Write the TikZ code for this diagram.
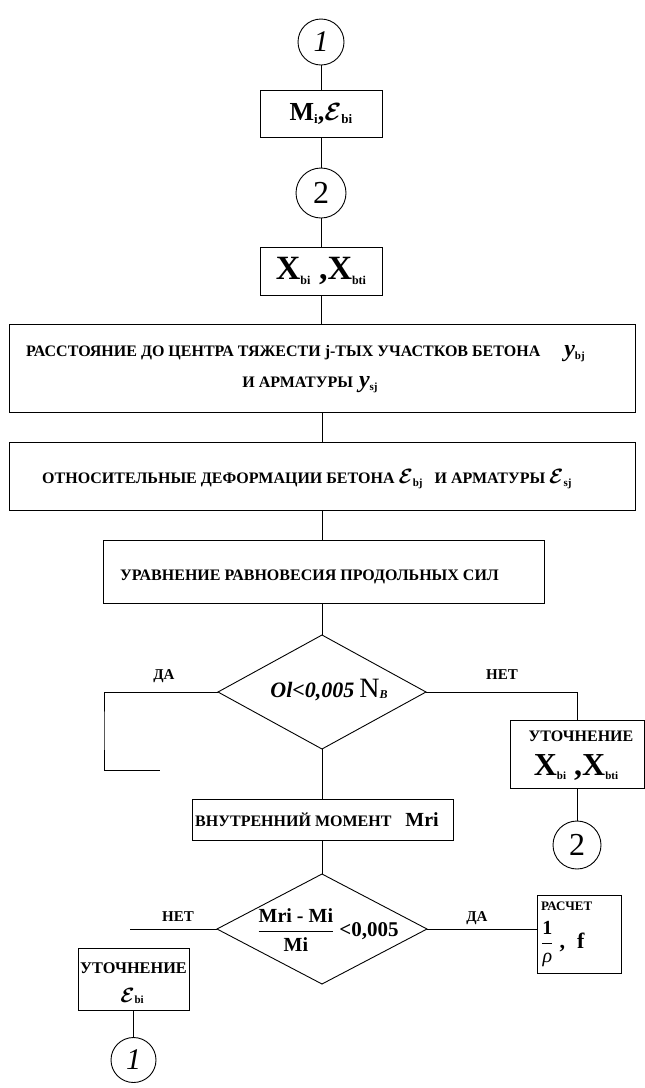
\documentclass[tikz,border=0pt]{standalone}
\usepackage{fontspec}
\setmainfont{Liberation Serif}
\usetikzlibrary{shapes.geometric,calc}
\newcommand{\subt}[2][11]{\raisebox{-0.3ex}{\fontsize{#1}{#1}\selectfont\bfseries #2}}
\newcommand{\calE}[1][22]{{\fontsize{#1}{#1}\selectfont\boldmath$\mathcal{E}$}}
\tikzset{
  ln/.style={line width=0.9pt},
  boxn/.style={draw, rectangle, line width=0.9pt, inner sep=0pt, outer sep=0pt},
  circn/.style={draw, circle, line width=0.9pt, inner sep=0pt, outer sep=0pt},
  dia/.style={draw, diamond, line width=0.9pt, inner sep=0pt, outer sep=0pt},
  txt/.style={inner sep=0pt, font=\fontsize{16}{18}\selectfont\bfseries},
  lbl/.style={inner sep=0pt, font=\fontsize{15}{16}\selectfont\bfseries},
  sml/.style={inner sep=0pt, font=\fontsize{13}{15}\selectfont\bfseries}
}
\begin{document}
\begin{tikzpicture}[x=1pt,y=-1pt]
\useasboundingbox (0,0) rectangle (645,1088);

% top part
\node[circn, minimum size=46pt] (c1) at (321,42) {\fontsize{30}{30}\selectfont\itshape 1};
\node[boxn, minimum width=122pt, minimum height=47pt] (mi) at (321,113.5)
  {\fontsize{26}{26}\selectfont\bfseries M\subt[13]{i},\calE[26]\subt[13]{bi}};
\node[circn, minimum size=50pt] (c2) at (321,193) {\fontsize{32}{32}\selectfont 2};
\node[boxn, minimum width=122pt, minimum height=48pt] (xb) at (321,271)
  {\fontsize{34}{34}\selectfont\bfseries X\subt[12]{bi} ,X\subt[12]{bti}};

% big box 1
\node[boxn, minimum width=626pt, minimum height=88pt] (b1) at (322,368) {};
\node[txt, anchor=west] (t1a) at (26,354)
  {РАССТОЯНИЕ ДО ЦЕНТРА ТЯЖЕСТИ j-ТЫХ УЧАСТКОВ БЕТОНА\hspace{24pt}{\fontsize{24}{24}\selectfont\bfseries\itshape y}\subt{bj}};
\node[txt] (t1b) at (310,385)
  {И АРМАТУРЫ\hspace{6pt}{\fontsize{24}{24}\selectfont\bfseries\itshape y}\subt{sj}};

% big box 2
\node[boxn, minimum width=626pt, minimum height=68pt] (b2) at (322,476) {};
\node[txt, anchor=west] (t2) at (42,479)
  {ОТНОСИТЕЛЬНЫЕ ДЕФОРМАЦИИ БЕТОНА \calE\subt{bj}\hspace{12pt}И АРМАТУРЫ \calE\subt{sj}};

% box 3
\node[boxn, minimum width=441pt, minimum height=63pt] (b3) at (323.5,571.5) {};
\node[txt, anchor=west] (t3) at (120,577) {УРАВНЕНИЕ РАВНОВЕСИЯ ПРОДОЛЬНЫХ СИЛ};

% diamond 1
\node[dia, minimum width=208pt, minimum height=114pt] (d1) at (322,692) {};
\node[inner sep=0pt] (t4) at (329,690)
  {{\fontsize{22}{22}\selectfont\bfseries\itshape Ol<0,005}\hspace{5pt}{\fontsize{28}{28}\selectfont N}\subt[12]{\itshape B}};
\node[lbl] (da1) at (164,676) {ДА};
\node[lbl] (net1) at (502,675) {НЕТ};

% right branch
\node[boxn, minimum width=134pt, minimum height=68pt] (uxb) at (577,754) {};
\node[txt] (t5a) at (581,736) {УТОЧНЕНИЕ};
\node[inner sep=0pt] (t5b) at (576,767)
  {\fontsize{32}{32}\selectfont\bfseries X\subt[11]{bi} ,X\subt[11]{bti}};
\node[circn, minimum size=48pt] (c2b) at (577,845) {\fontsize{32}{32}\selectfont 2};

% left branch
\coordinate (dal) at (104,730);
\coordinate (daend) at (160,770);

% Mri box
\node[boxn, minimum width=261pt, minimum height=41pt] (mri) at (322.5,819.5) {};
\node[inner sep=0pt] (t9) at (317,820)
  {{\fontsize{16}{16}\selectfont\bfseries ВНУТРЕННИЙ МОМЕНТ}\hspace{14pt}{\fontsize{20}{20}\selectfont\bfseries Mri}};

% diamond 2
\node[dia, minimum width=210pt, minimum height=110pt] (d2) at (322,929) {};
\node[inner sep=0pt] (t6) at (328,930)
  {{\fontsize{20}{20}\selectfont$\displaystyle\frac{\mbox{\bfseries Mri - Mi}}{\mbox{\bfseries Mi}}$}\hspace{5pt}{\fontsize{21}{21}\selectfont\bfseries <0,005}};
\node[lbl] (net2) at (178,917) {НЕТ};
\coordinate (nend) at (130,929);
\node[lbl] (da2) at (477,918) {ДА};

% РАСЧЕТ
\node[boxn, minimum width=84pt, minimum height=78pt] (ras) at (579,934) {};
\node[sml, anchor=west] (t7a) at (541,906) {РАСЧЕТ};
\node[inner sep=0pt, anchor=west] (t7b) at (541,944)
  {{\fontsize{20}{20}\selectfont$\displaystyle\frac{\mbox{\bfseries 1}}{\mbox{\itshape ρ}}$}\hspace{6pt}{\fontsize{22}{22}\selectfont\bfseries ,\hspace{12pt}f}};

% УТОЧНЕНИЕ eps
\node[boxn, minimum width=111pt, minimum height=62pt] (ueps) at (133.5,979) {};
\node[txt, font=\fontsize{16.3}{18}\selectfont\bfseries] (t8a) at (133.5,968) {УТОЧНЕНИЕ};
\node[inner sep=0pt] (t8b) at (132,996) {\calE[21]\subt{bi}};
\node[circn, minimum size=45pt] (c1b) at (133.5,1060) {\fontsize{30}{30}\selectfont\itshape 1};

% connectors
\draw[ln] (c1.south) -- (c1.south |- mi.north);
\draw[ln] (mi.south) -- (mi.south |- c2.north);
\draw[ln] (c2.south) -- (c2.south |- xb.north);
\draw[ln] (xb.south) -- (xb.south |- b1.north);
\draw[ln] (d1.north |- b1.south) -- (d1.north |- b2.north);
\draw[ln] (d1.north |- b2.south) -- (d1.north |- b3.north);
\draw[ln] (d1.north |- b3.south) -- (d1.north);
\draw[ln] (d1.west) -| (dal) |- (daend);
\draw[ln] (d1.east) -| (uxb.north);
\draw[ln] (uxb.south) -- (c2b.north);
\draw[ln] (d1.south) -- (d1.south |- mri.north);
\draw[ln] (d2.north |- mri.south) -- (d2.north);
\draw[ln] (d2.west) -- (nend);
\draw[ln] (d2.east) -- (d2.east -| ras.west);
\draw[ln] (ueps.south) -- (c1b.north);
\end{tikzpicture}
\end{document}
